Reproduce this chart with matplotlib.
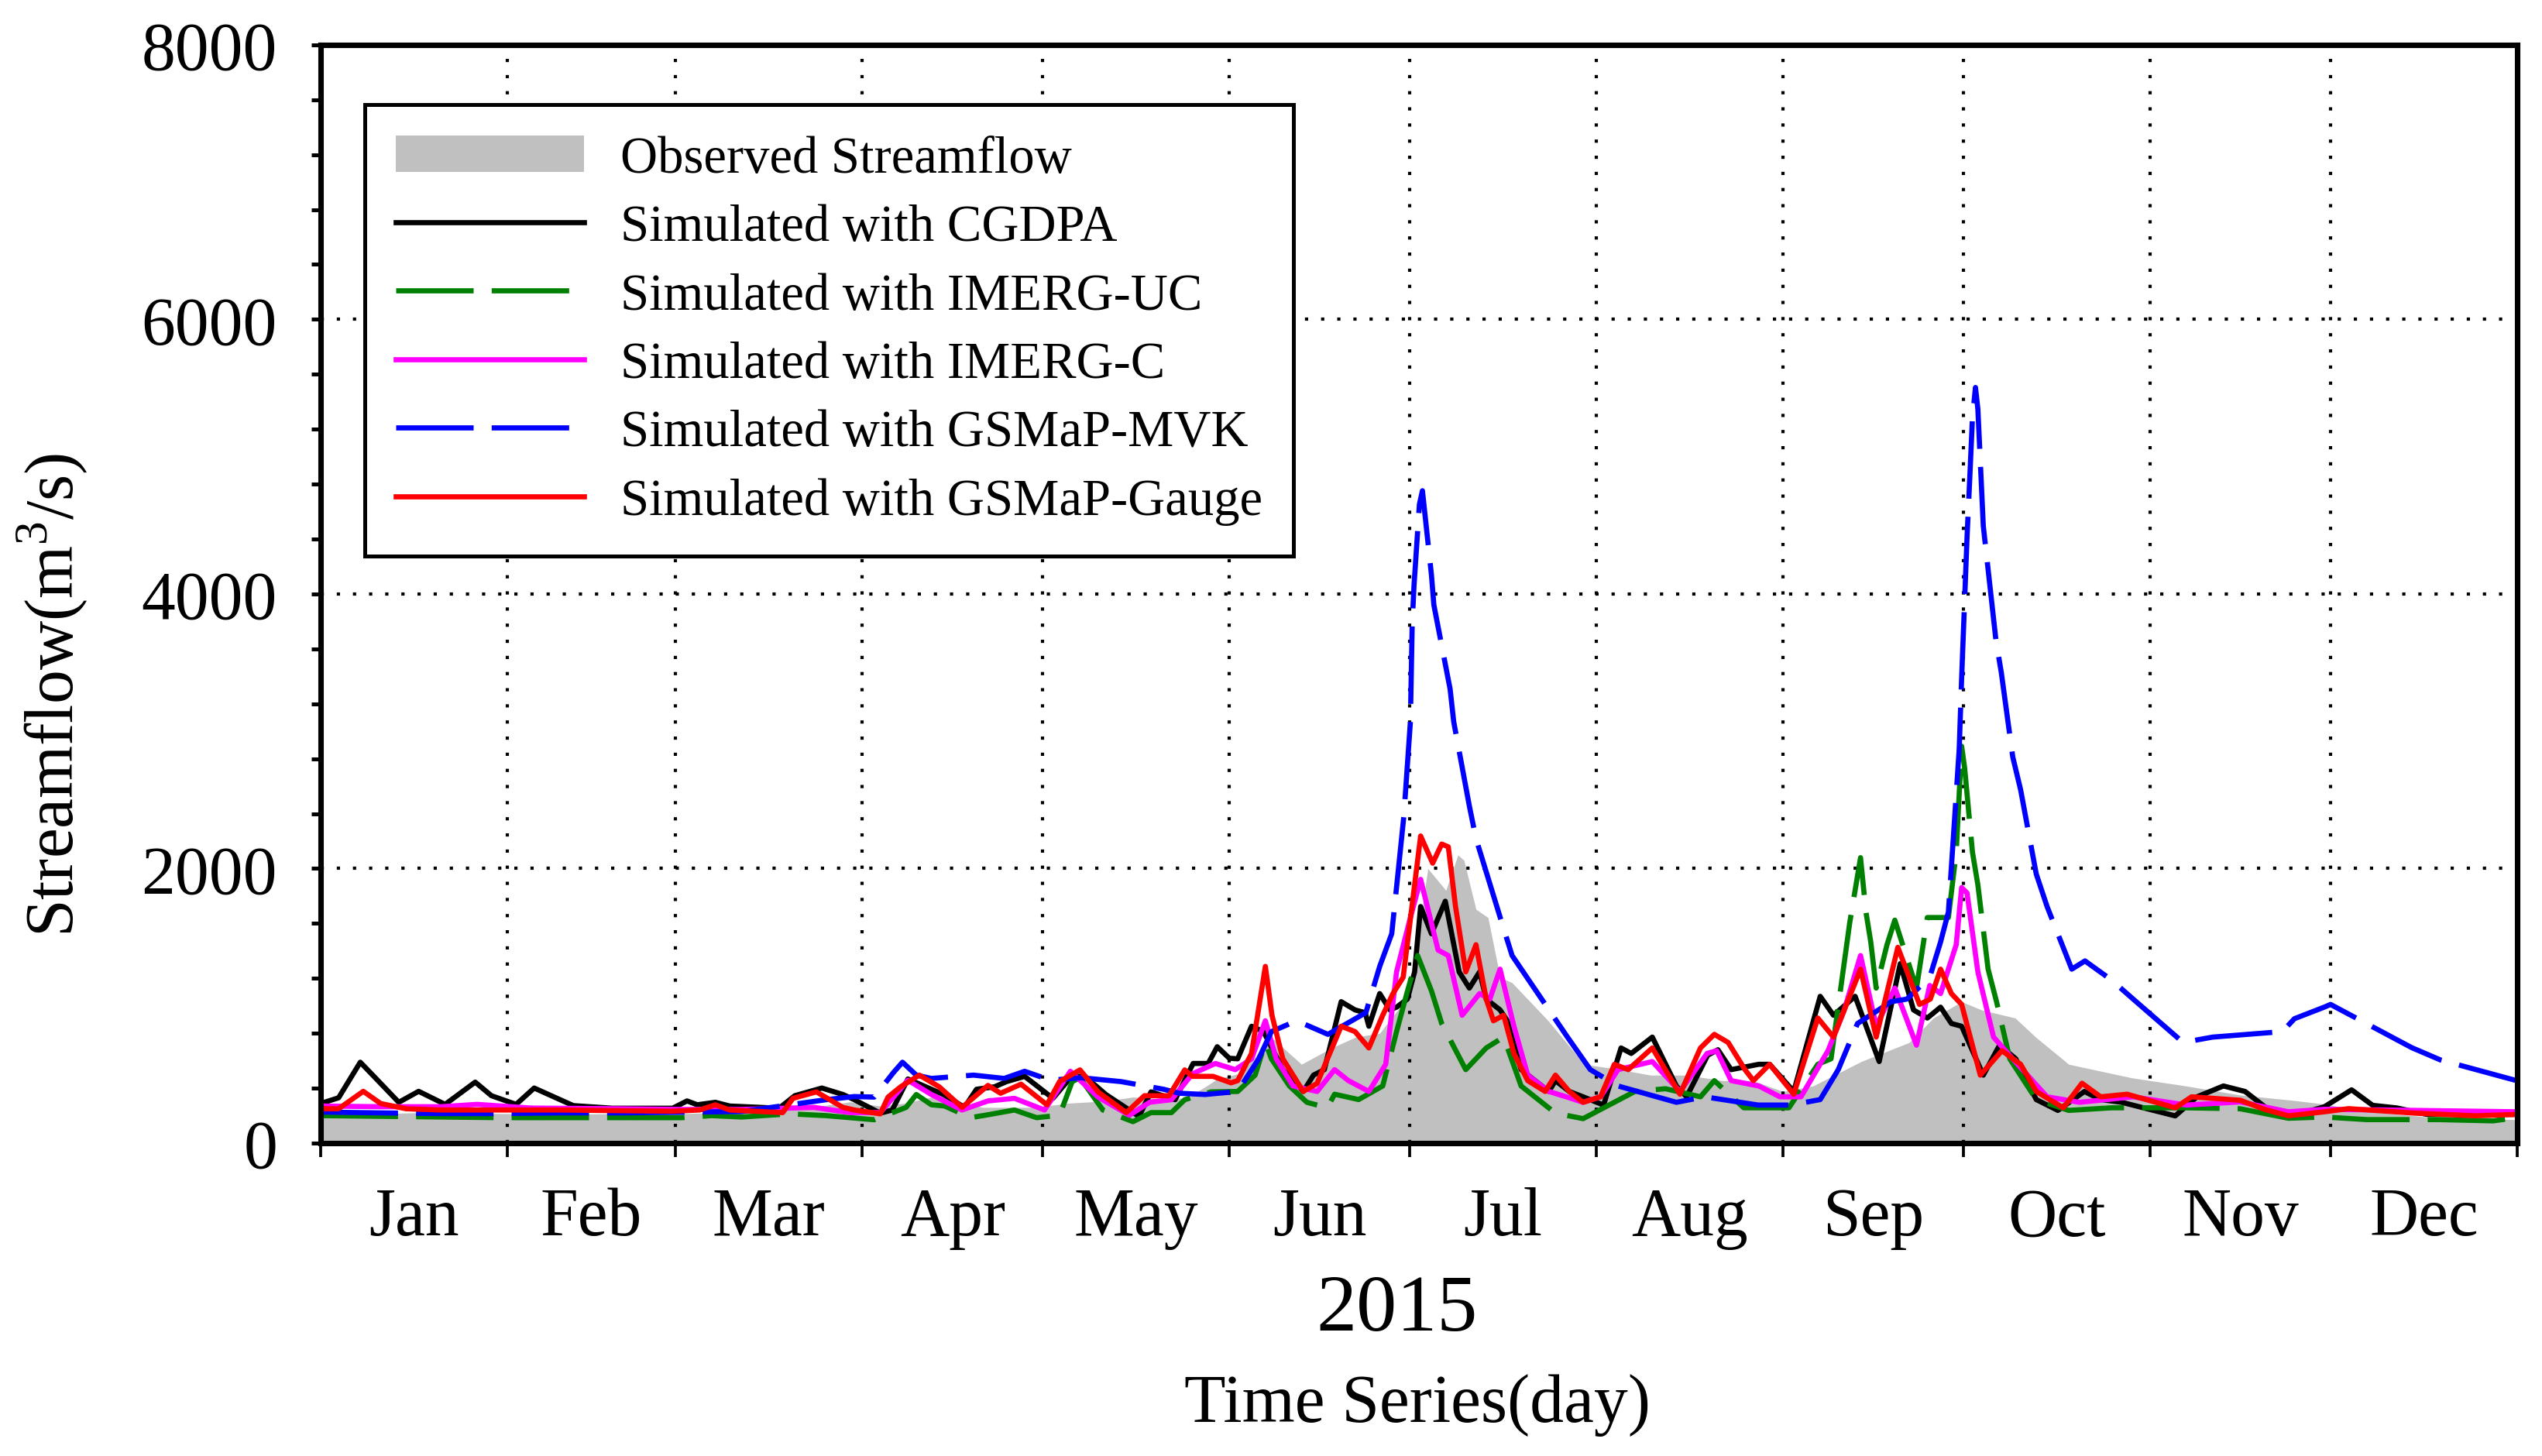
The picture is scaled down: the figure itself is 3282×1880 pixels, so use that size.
import matplotlib
matplotlib.use("Agg")
import matplotlib.pyplot as plt
from matplotlib.ticker import FixedLocator, MultipleLocator, NullFormatter, FixedFormatter

plt.rcParams['font.family'] = ['Liberation Serif', 'DejaVu Serif']
plt.rcParams['mathtext.fontset'] = 'custom'
plt.rcParams['mathtext.rm'] = 'Liberation Serif'

# month boundaries (day of year, Jan 1 = 0) and labels
month_starts = [0, 31, 59, 90, 120, 151, 181, 212, 243, 273, 304, 334, 365]
month_names = ["Jan", "Feb", "Mar", "Apr", "May", "Jun",
               "Jul", "Aug", "Sep", "Oct", "Nov", "Dec"]

# observed streamflow (m3/s)
obs_day = [0, 10, 20, 30, 40, 50, 60, 70, 80, 88, 93, 97, 101.5, 106, 110, 115, 119,
           124, 128, 132, 135, 140, 144, 147, 149, 153, 158, 163, 168, 172, 176, 179,
           181, 184, 187, 189, 190, 192, 194, 196, 198, 204, 210, 216, 221, 227, 233,
           238, 243, 248, 256, 264, 268, 272.7, 276, 281.6, 285, 290.5, 301, 310,
           319, 328, 333, 340, 350, 365]
obs_val = [220, 215, 225, 215, 210, 215, 215, 225, 250, 300, 270, 290, 335, 300, 260, 260, 260,
           290, 300, 316, 335, 320, 330, 410, 467, 510, 772, 574, 693, 772, 800, 970,
           1089, 2000, 1841, 2099, 2060, 1703, 1643, 1208, 1168, 891, 574, 535, 495, 495, 455,
           455, 376, 416, 594, 733, 911, 1030, 970, 911, 772, 574, 475, 416,
           350, 310, 284, 230, 190, 170]

# simulated with CGDPA
cgdpa_day = [0, 3, 6.6, 9, 13, 16.3, 20.7, 25.7, 28.4, 32.5, 35.5, 42, 48.5, 58.5, 60.9,
             62.6, 65.6, 68, 76.2, 78.8, 83.3, 86.8, 88.7, 93, 95, 97.6, 101.5, 103.5, 107,
             109, 112, 114, 117, 121.7, 124.8, 127, 130.5, 136, 138, 142, 145, 147.5, 149,
             151, 152.4, 154.7, 156.7, 159.9, 163.3, 165, 166.8, 169.6, 171.9, 173.6, 174.2,
             176, 177.7, 178.8, 180.6, 181.8, 182.8, 184.6, 186.9, 189.2, 190.9, 192.6,
             193.7, 196, 197.2, 199.5, 204.1, 205.2, 207.5, 209.8, 213.2, 216.1, 217.8,
             221.3, 225.3, 227, 230.5, 232.2, 234.4, 239, 240.8, 244.8, 249.2, 251.4, 255,
             259, 262.5, 264.7, 267, 269.2, 271, 272.7, 276.3, 279, 281.7, 285.1, 288.7,
             293.1, 295.8, 299.3, 308.2, 311.8, 316.2, 319.8, 323.3, 327, 333, 337.5, 341,
             345, 350, 365]
cgdpa_val = [288, 330, 589, 480, 297, 377, 282, 444, 345, 282, 401, 273, 254, 254, 307,
             279, 297, 270, 254, 345, 401, 354, 316, 218, 241, 467, 392, 354, 260,
             392, 410, 448, 486, 326, 486, 486, 354, 194, 373, 316, 580, 580, 702,
             618, 614, 851, 812, 535, 376, 495, 535, 1030, 970, 950, 851,
             1089, 970, 990, 1049, 1247, 1723, 1525, 1762, 1247, 1129, 1247,
             1049, 970, 891, 535, 376, 455, 376, 337, 277, 693, 653,
             772, 416, 337, 640, 680, 535, 574, 574, 376, 1069, 931, 1069,
             594, 1307, 970, 911, 990, 871, 851, 495, 713, 614, 317, 238,
             376, 317, 297, 198, 337, 416, 376, 257, 190, 265, 388, 275,
             256, 209, 209]

# simulated with IMERG-UC
imuc_day = [0, 10, 20, 30, 40, 50, 60, 65, 70, 78, 84, 92, 97.3, 99, 101.5, 103.7, 108,
            111, 115.3, 119, 122.8, 124.9, 126.2, 130, 135, 138, 141.4, 143.6, 148, 152.4,
            155.3, 157, 158, 161, 163.9, 167.3, 168.5, 172.5, 176.5, 178.8, 180.5, 182.3,
            184.6, 186.3, 190.3, 192, 193.7, 196.6, 199.5, 205.2, 209.8, 218.4, 223.5,
            229.3, 231.6, 236.5, 240, 244, 248.8, 251, 254.1, 255.9, 256.8, 257.6, 258.5,
            260.3, 261.6, 262.9, 265.2, 267, 268.4, 270.5, 271.8, 272.7, 273.2, 274.5,
            275.4, 277.1, 278.5, 280.7, 285.1, 290.5, 297.6, 310, 319, 327, 333, 340,
            352, 361, 365]
imuc_val = [200, 195, 190, 185, 185, 185, 185, 200, 190, 213, 200, 170, 260, 354, 279, 270, 185,
            207, 241, 185, 203, 448, 476, 241, 156, 222, 222, 316, 373, 376,
            495, 733, 614, 416, 297, 257, 356, 317, 416, 812, 1089, 1366,
            1109, 871, 535, 614, 693, 772, 416, 218, 178, 376, 396,
            337, 455, 257, 257, 257, 574, 614, 1604, 2079, 1683, 1465, 1129,
            1445, 1624, 1445, 1129, 1643, 1643, 1643, 2119, 2891, 2732, 2119,
            1881, 1267, 1030, 614, 317, 238, 257, 257, 250, 181, 190, 171,
            171, 162, 185]

# simulated with IMERG-C
imc_day = [0, 10, 20, 26, 35, 50, 60, 70, 82, 88, 93, 97.6, 101.5, 106.6, 110.9, 115.3,
           120.3, 124.6, 129.2, 134.4, 137.8, 141.4, 144.9, 148.7, 152, 154.7, 157, 158.8,
           161.6, 165.6, 168.5, 170.8, 174.2, 177, 178.8, 181.1, 182.8, 185.7, 187.4,
           189.7, 192.6, 194.3, 196, 198.3, 200.6, 204.1, 207, 209.8, 212.7, 215.6, 221.3,
           225.9, 230.4, 232, 234.4, 239, 242.5, 246, 250.5, 253.2, 255.9, 258.5, 261.6,
           265.2, 267.4, 269.2, 271.8, 272.7, 273.6, 275.4, 278, 281.6, 286.9, 292.3,
           301.2, 310, 319, 327, 333, 345, 365]
imc_val = [270, 265, 265, 282, 255, 250, 245, 245, 260, 222, 222, 458, 354, 241, 307, 326,
           241, 523, 335, 203, 298, 316, 505, 580, 535, 614, 891, 614,
           416, 376, 535, 455, 376, 574, 1247, 1643, 1921, 1406, 1366,
           931, 1089, 1049, 1267, 851, 495, 376, 337, 297, 337, 535, 594,
           376, 653, 673, 455, 416, 337, 337, 673, 970, 1366, 851, 1129,
           713, 1148, 1089, 1445, 1861, 1822, 1247, 772, 594, 337, 297,
           337, 277, 300, 228, 246, 240, 228]

# simulated with GSMaP-MVK
mvk_day = [0, 10, 20, 30, 40, 50, 60, 70, 78, 84, 88.7, 92, 95.2, 96.7, 99, 101.5, 108.5,
           113.6, 117, 121.3, 126.4, 133, 140.1, 142.7, 147, 152.4, 155.9, 158, 162.2,
           167.4, 173.7, 176, 178, 179.4, 180, 181.1, 181.4, 181.7, 182.6, 183.1, 184.6,
           185, 187.7, 188.3, 190.9, 192, 196.3, 198, 207.2, 211, 215.6, 225.3, 230,
           238.9, 244.3, 249.2, 252.2, 255.4, 261, 263.6, 267.4, 269.2, 270.5, 271.4,
           272.3, 272.7, 273.6, 274.1, 274.5, 275, 275.4, 276.3, 278.4, 279.3, 281.2,
           282.5, 285.1, 286.9, 291, 293.2, 297.6, 301.2, 309.5, 314.4, 326, 328, 333,
           334, 347.5, 352.3, 365]
mvk_val = [226, 220, 215, 215, 220, 220, 225, 230, 279, 316, 339, 335, 514, 589, 495, 471, 495,
           471, 523, 458, 476, 448, 392, 363, 354, 376, 614, 812, 891,
           792, 950, 1287, 1525, 2119, 2376, 3069, 3782, 4059, 4653, 4752, 4138,
           3920, 3307, 3069, 2455, 2218, 1604, 1366, 772, 535, 416, 297, 337,
           277, 277, 317, 535, 871, 1030, 1049, 1208, 1465, 1683, 2277,
           2871, 3386, 4415, 4891, 5287, 5504, 5346, 4495, 3663, 3425, 2812,
           2574, 1960, 1723, 1267, 1327, 1188, 1049, 733, 772, 812, 906, 991,
           1010, 695, 605, 454]

# simulated with GSMaP-Gauge
gauge_day = [0, 3, 7.1, 10, 14.2, 20, 30, 40, 50, 58.5, 63, 65.6, 68, 76.8, 78.5, 82.4, 86.8,
             88.7, 93, 94.3, 96.4, 99.5, 102.8, 106.6, 110.9, 113, 116.4, 120.7, 122.8,
             126.2, 129.2, 133.9, 136.9, 141, 143.6, 144.9, 148.3, 151.3, 152.4, 154.7, 157,
             158.1, 159.9, 163.3, 165.6, 169.6, 171.9, 174.2, 176.5, 178.2, 179.9, 180.8,
             182.8, 184.8, 186.3, 187.4, 188.6, 190.3, 192, 193.7, 194.9, 196.6, 198.3,
             200.6, 203.5, 205.2, 207.5, 209.8, 212.7, 215, 217.3, 221.3, 225.9, 229.3,
             231.6, 233.9, 236.7, 238.1, 240.8, 244.8, 248.8, 251.4, 255.9, 258.5, 262.1,
             265.7, 267.5, 269.2, 271, 272.7, 275.8, 279.4, 282.5, 285.1, 289.6, 292.7,
             295.8, 300.2, 308.2, 310.9, 319, 323, 327, 333, 337, 348, 358, 365]
gauge_val = [250, 250, 377, 288, 250, 241, 241, 241, 236, 232, 241, 279, 241, 222, 326, 373, 260,
             241, 213, 335, 410, 495, 410, 260, 420, 363, 429, 279, 448,
             533, 373, 222, 345, 345, 533, 486, 486, 439, 455, 653, 1287,
             931, 614, 376, 435, 851, 812, 693, 931, 1089, 1208, 1525,
             2237, 2039, 2178, 2158, 1723, 1247, 1445, 1049, 891, 931, 653,
             455, 376, 495, 376, 297, 337, 574, 535, 693, 356, 693,
             792, 733, 535, 455, 574, 356, 911, 772, 1267, 772, 1426,
             1010, 1049, 1267, 1089, 1010, 495, 673, 574, 376, 257, 436,
             337, 356, 257, 337, 312, 246, 199, 228, 251, 218, 199, 209]

fig = plt.figure(figsize=(3282 / 300, 1881 / 300), dpi=300)
ax = fig.add_axes([0.1261, 0.2148, 0.8641, 0.7539])

lw = 1.6
dash = (0, (15, 3.5))
ax.fill_between(obs_day, 0, obs_val, color='#c0c0c0', lw=0, label='Observed Streamflow')
ax.plot(cgdpa_day, cgdpa_val, color='black', lw=lw, label='Simulated with CGDPA')
ax.plot(imuc_day, imuc_val, color='#008000', lw=lw, ls=dash, label='Simulated with IMERG-UC')
ax.plot(imc_day, imc_val, color='#ff00ff', lw=lw, label='Simulated with IMERG-C')
ax.plot(mvk_day, mvk_val, color='#0000ff', lw=lw, ls=dash, label='Simulated with GSMaP-MVK')
ax.plot(gauge_day, gauge_val, color='#ff0000', lw=lw, label='Simulated with GSMaP-Gauge')

ax.set_xlim(0, 365)
ax.set_ylim(0, 8000)

# x: ticks at month boundaries, labels in the middle of each month
mids = [(a + b) / 2 for a, b in zip(month_starts[:-1], month_starts[1:])]
ax.xaxis.set_major_locator(FixedLocator(month_starts))
ax.xaxis.set_major_formatter(NullFormatter())
ax.xaxis.set_minor_locator(FixedLocator(mids))
ax.xaxis.set_minor_formatter(FixedFormatter(month_names))
ax.tick_params(axis='x', which='major', direction='out', length=4.3, width=0.9)
ax.tick_params(axis='x', which='minor', length=0, pad=13.5, labelsize=21)

ax.yaxis.set_major_locator(MultipleLocator(2000))
ax.yaxis.set_minor_locator(MultipleLocator(400))
ax.tick_params(axis='y', which='both', direction='out', length=2.9, width=1.2,
               labelsize=21, pad=10.5)

ax.grid(True, which='major', color='black', lw=1.0, ls=(0, (1, 4)))

for s in ax.spines.values():
    s.set_linewidth(1.7)

fig.text(0.0204, 0.523, 'Streamflow(m$^{3}$/s)', rotation=90, fontsize=21,
         ha='center', va='center')
fig.text(0.5494, 0.1, '2015', fontsize=25, ha='center', va='center')
fig.text(0.5576, 0.0356, 'Time Series(day)', fontsize=21, ha='center', va='center')

leg = ax.legend(loc='upper left', bbox_to_anchor=(0.0201, 0.9457), borderaxespad=0,
                fontsize=16, fancybox=False, framealpha=1, edgecolor='black',
                handlelength=3.65, handletextpad=0.7, labelspacing=0.41, borderpad=0.6)
leg.get_frame().set_linewidth(1.2)

fig.savefig('out.png', dpi=300)
